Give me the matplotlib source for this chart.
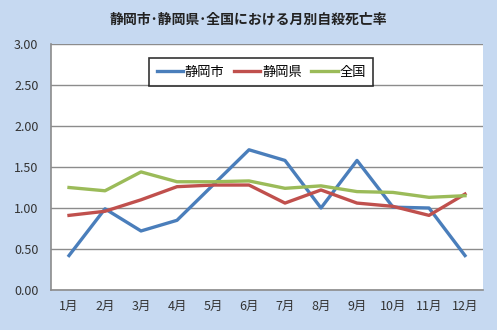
import matplotlib
matplotlib.use("Agg")
import matplotlib.pyplot as plt

plt.rcParams['font.family'] = ['Noto Sans CJK JP', 'DejaVu Sans']

months = ['1月', '2月', '3月', '4月', '5月', '6月', '7月', '8月', '9月', '10月', '11月', '12月']
shizuoka_city = [0.42, 0.99, 0.72, 0.85, 1.28, 1.71, 1.58, 1.00, 1.58, 1.01, 1.00, 0.42]
shizuoka_pref = [0.91, 0.96, 1.10, 1.26, 1.28, 1.28, 1.06, 1.22, 1.06, 1.02, 0.91, 1.17]
national = [1.25, 1.21, 1.44, 1.32, 1.32, 1.33, 1.24, 1.27, 1.20, 1.19, 1.13, 1.15]
yticks = [0.0, 0.5, 1.0, 1.5, 2.0, 2.5, 3.0]

bg = '#c6d9f1'
fig = plt.figure(figsize=(4.97, 3.30), dpi=100, facecolor=bg)
ax = fig.add_axes([51 / 497, 40 / 330, 432 / 497, 246 / 330])
ax.set_facecolor('white')

x = list(range(1, 13))
ax.plot(x, shizuoka_city, color='#4a7ebb', lw=2.4, label='静岡市', zorder=3)
ax.plot(x, shizuoka_pref, color='#c0504d', lw=2.4, label='静岡県', zorder=3)
ax.plot(x, national, color='#9bbb59', lw=2.4, label='全国', zorder=3)

ax.set_xlim(0.5, 12.5)
ax.set_ylim(0, 3)
ax.set_xticks(x)
ax.set_xticklabels(months)
ax.set_yticks(yticks)
ax.set_yticklabels(['%.2f' % v for v in yticks])
ax.tick_params(length=0, labelsize=9, colors='#333333')
ax.tick_params(axis='y', pad=9)
ax.tick_params(axis='x', pad=7)
ax.grid(axis='y', color='#8c8c8c', lw=1)
ax.set_axisbelow(True)
for s in ['top', 'right']:
    ax.spines[s].set_visible(False)
for s in ['left', 'bottom']:
    ax.spines[s].set_color('#8c8c8c')
    ax.spines[s].set_linewidth(1.2)

leg = ax.legend(loc='upper center', bbox_to_anchor=(0.487, 0.968), ncol=3, fontsize=9.5,
                frameon=True, fancybox=False, edgecolor='black', handlelength=2.0,
                columnspacing=0.7, borderpad=0.55, handletextpad=0.15)
leg.get_frame().set_linewidth(1.2)

fig.text(0.5, 1 - 20 / 330, '静岡市･静岡県･全国における月別自殺死亡率', ha='center', va='center',
         fontsize=10, fontweight='bold', color='#222222')

fig.savefig('out.png', dpi=100, facecolor=bg)
